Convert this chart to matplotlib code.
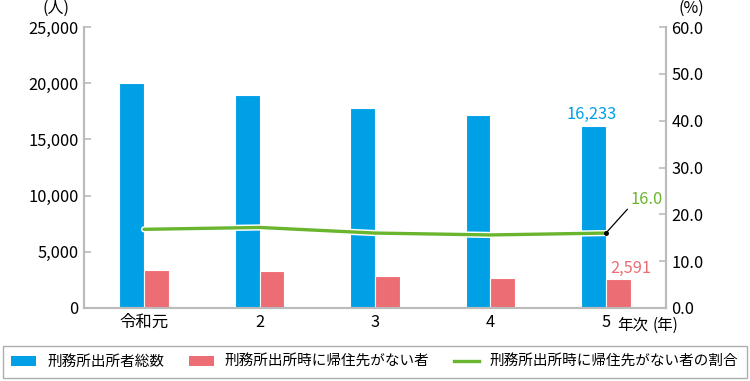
import matplotlib
matplotlib.use("Agg")
import matplotlib.pyplot as plt
import matplotlib.patheffects as pe
from matplotlib.patches import Patch
from matplotlib.lines import Line2D
import numpy as np

plt.rcParams['font.family'] = ['Noto Sans CJK JP', 'DejaVu Sans']

categories = ["令和元", "2", "3", "4", "5"]
total_released = [19990, 18955, 17820, 17130, 16233]
no_home = [3360, 3260, 2850, 2670, 2591]
no_home_pct = [16.8, 17.2, 16.0, 15.6, 16.0]
left_ticks = [0, 5000, 10000, 15000, 20000, 25000]
right_ticks = [0, 10, 20, 30, 40, 50, 60]
legend_labels = ["刑務所出所者総数", "刑務所出所時に帰住先がない者", "刑務所出所時に帰住先がない者の割合"]

BLUE = "#00A0E6"
PINK = "#EC6D74"
GREEN = "#6AB52E"
SPINE = "#BBBBBB"

fig = plt.figure(figsize=(7.5, 3.81), dpi=100)
ax = fig.add_axes([84/750, 1-308/381, (666-84)/750, (308-27)/381])
ax2 = ax.twinx()

x = np.arange(len(categories))
w = 0.216
ax.bar(x - w/2, total_released, width=w, color=BLUE, edgecolor="white", linewidth=0.8, zorder=2)
ax.bar(x + w/2, no_home, width=w, color=PINK, edgecolor="white", linewidth=0.8, zorder=2)

ax.set_xlim(-0.52, len(categories) - 1 + 0.52)
ax.set_ylim(0, 25000)
ax.set_yticks(left_ticks)
ax.set_yticklabels([f"{v:,}" for v in left_ticks], fontsize=11.8)
ax.set_xticks(x)
ax.set_xticklabels(categories, fontsize=11.8)
ax.tick_params(axis='x', length=0, pad=4)
ax.tick_params(axis='y', direction='in', length=5, color=SPINE, width=1.2, pad=4)

ax2.set_ylim(0, 60)
ax2.set_yticks(right_ticks)
ax2.set_yticklabels([f"{v:.1f}" for v in right_ticks], fontsize=11.8)
ax2.tick_params(axis='y', direction='in', length=5, color=SPINE, width=1.2, pad=4)

for a in (ax, ax2):
    a.spines['top'].set_visible(False)
    for s in ('left', 'right', 'bottom'):
        a.spines[s].set_color(SPINE)
        a.spines[s].set_linewidth(1.5)

ax2.plot(x, no_home_pct, color=GREEN, linewidth=2.4, solid_capstyle='round', zorder=3,
         path_effects=[pe.Stroke(linewidth=4.5, foreground='white'), pe.Normal()])

# annotations
ax.text(x[-1] - w/2 - 0.02, total_released[-1] + 550, f"{total_released[-1]:,}", color=BLUE,
        fontsize=11.8, ha='center', va='baseline')
ax.text(x[-1] + w/2 + 0.11, no_home[-1] + 500, f"{no_home[-1]:,}", color=PINK,
        fontsize=11.8, ha='center', va='baseline')
ax2.plot([x[-1]], [no_home_pct[-1]], marker='o', markersize=2.5, color='black', zorder=4)
ax2.annotate(f"{no_home_pct[-1]:.1f}", xy=(x[-1], no_home_pct[-1]), xytext=(x[-1] + 0.21, 23.2),
             color=GREEN, fontsize=11.8, ha='left', va='center',
             arrowprops=dict(arrowstyle='-', color='black', lw=0.9, shrinkA=0, shrinkB=0,
                             relpos=(0, 0.1)))

# unit labels
fig.text(42/750, 1-8/381, "(人)", fontsize=11.5, ha='left', va='center')
fig.text(678/750, 1-8/381, "(%)", fontsize=11.5, ha='left', va='center')
fig.text(617/750, 1-325/381, "年次", fontsize=11.2, ha='left', va='center')
fig.text(653/750, 1-325/381, "(年)", fontsize=11.2, ha='left', va='center')

handles = [Patch(facecolor=BLUE, edgecolor='none'),
           Patch(facecolor=PINK, edgecolor='none'),
           Line2D([0], [0], color=GREEN, linewidth=2.4)]
leg = fig.legend(handles, legend_labels, loc='center', bbox_to_anchor=(0.5, 1-362/381),
                 ncol=3, fontsize=10.5, frameon=True, fancybox=False, edgecolor="#999999",
                 handlelength=1.7, handleheight=0.75, handletextpad=0.75, columnspacing=1.7,
                 borderpad=0.6, borderaxespad=0)
leg.get_frame().set_linewidth(1.0)

fig.savefig("out.png", dpi=100)
